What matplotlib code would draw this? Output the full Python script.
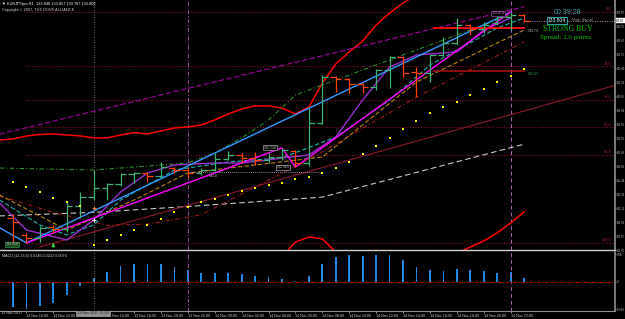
import matplotlib
matplotlib.use("Agg")
import matplotlib.pyplot as plt

plt.rcParams['font.family'] = ['Liberation Sans', 'DejaVu Sans']

# EURJPY H1 bars, 13 Nov 09:00 .. 14 Nov 23:00
opens = [132.122, 131.978, 131.952, 132.046, 132.029, 132.224, 132.301, 132.377, 132.411, 132.496,
         132.505, 132.479, 132.548, 132.530, 132.505, 132.530, 132.624, 132.658, 132.633, 132.616,
         132.641, 132.692, 132.590, 132.930, 133.321, 133.304, 133.262, 133.236, 133.381, 133.491,
         133.364, 133.355, 133.508, 133.610, 133.763, 133.729, 133.780, 133.831, 133.848]
highs = [132.156, 131.995, 132.054, 132.063, 132.258, 132.343, 132.530, 132.420, 132.505, 132.513,
         132.513, 132.599, 132.556, 132.556, 132.548, 132.675, 132.692, 132.675, 132.684, 132.675,
         132.718, 132.701, 133.058, 133.338, 133.330, 133.313, 133.270, 133.389, 133.500, 133.500,
         133.406, 133.508, 133.661, 133.823, 133.770, 133.789, 133.848, 133.874, 133.857]
lows = [131.915, 131.910, 131.918, 131.995, 132.003, 132.131, 132.275, 132.275, 132.394, 132.420,
        132.428, 132.471, 132.505, 132.462, 132.488, 132.522, 132.616, 132.590, 132.573, 132.590,
        132.616, 132.556, 132.561, 132.922, 133.194, 133.185, 133.185, 133.211, 133.228, 133.321,
        133.151, 133.279, 133.500, 133.593, 133.678, 133.695, 133.763, 133.721, 133.787]
closes = [132.088, 131.952, 132.037, 132.029, 132.224, 132.301, 132.377, 132.411, 132.496, 132.505,
          132.479, 132.556, 132.530, 132.505, 132.530, 132.624, 132.658, 132.633, 132.616, 132.641,
          132.701, 132.590, 132.930, 133.321, 133.304, 133.262, 133.236, 133.381, 133.491, 133.355,
          133.355, 133.508, 133.610, 133.763, 133.729, 133.763, 133.831, 133.848, 133.800]

# parabolic SAR
sar = [132.428, 132.386, 132.343, 132.292, 132.258, 132.224, 131.893, 131.935, 131.978, 132.020,
       132.063, 132.114, 132.173, 132.216, 132.258, 132.284, 132.318, 132.352, 132.377, 132.403,
       132.420, 132.454, 132.471, 132.505, 132.548, 132.599, 132.667, 132.735, 132.803, 132.879,
       132.947, 133.015, 133.066, 133.109, 133.168, 133.219, 133.279, 133.330, 133.389]

# bollinger bands, from the bar before the window (-1) to the last bar
bb_upper = [132.785, 132.794, 132.820, 132.832, 132.837, 132.828, 132.820, 132.803, 132.803, 132.828,
            132.849, 132.837, 132.862, 132.888, 132.896, 132.913, 132.956, 133.007, 133.049, 133.075,
            133.075, 133.058, 133.007, 133.066, 133.270, 133.432, 133.534, 133.627, 133.763, 133.865,
            133.950, 134.019, 134.078, 134.129, 134.163, 134.189, 134.214, 134.231, 134.248, 134.257]
bb_lower = [131.73, 131.72, 131.70, 131.68, 131.68, 131.70, 131.72, 131.74, 131.76, 131.78,
            131.80, 131.81, 131.82, 131.83, 131.83, 131.82, 131.80, 131.78, 131.77, 131.78,
            131.79, 131.791, 131.918, 131.961, 131.944, 131.833, 131.72, 131.60, 131.50, 131.42,
            131.38, 131.38, 131.42, 131.60, 131.820, 131.876, 131.927, 131.995, 132.080, 132.173]

# other indicator lines, sampled at bar numbers
channel_bars = [-1, 38]
channel_vals = [132.835, 133.919]
ma_long_bars = [-1, 6, 13, 23, 31, 38]
ma_long_vals = [132.14, 132.17, 132.22, 132.30, 132.54, 132.75]
trend_bars = [2, 44.76]
trend_vals = [131.876, 133.25]
env_bars = [-1, 3, 7, 10, 14, 22, 30, 38]
env_vals = [132.31, 132.17, 132.06, 132.07, 132.15, 132.62, 133.15, 133.62]
green_bars = [-1, 6, 13, 15, 17, 19, 21, 26, 30, 34, 37]
green_vals = [132.547, 132.530, 132.590, 132.675, 132.803, 132.956, 133.168, 133.381, 133.551, 133.721, 133.848]
zz_big_bars = [-1, 1, 37]
zz_big_vals = [132.039, 131.910, 133.874]
zz_small_bars = [1, 20, 21, 37]
zz_small_vals = [131.910, 132.718, 132.556, 133.874]
violet_bars = [-1, 1, 4, 6, 8, 10, 12, 15, 17, 19, 20, 22, 24, 26, 28, 30, 33, 35, 37]
violet_vals = [132.250, 132.020, 131.935, 132.105, 132.343, 132.505, 132.573, 132.590, 132.590, 132.616,
               132.633, 132.658, 132.811, 133.126, 133.406, 133.508, 133.534, 133.721, 133.823]
cyan_bars = [-1, 2, 4, 6, 8, 12, 16, 20, 24, 28, 31, 36, 38]
cyan_vals = [132.275, 132.063, 131.978, 132.063, 132.275, 132.530, 132.599, 132.633, 132.811, 133.126,
             133.423, 133.738, 133.823]
gold_bars = [-1, 4, 9, 13, 23, 30, 38]
gold_vals = [132.318, 132.020, 132.275, 132.505, 132.641, 133.279, 133.721]

# fibonacci retracement
fib_high, fib_low = 133.874, 131.910
fib_levels = [0.0, 23.6, 38.2, 50.0, 61.8, 100.0]

# MACD histogram
macd = [-0.0881, -0.0928, -0.0846, -0.0730, -0.0441, -0.0151, 0.0139, 0.0359, 0.0557, 0.0638,
        0.0638, 0.0638, 0.0533, 0.0429, 0.0325, 0.0325, 0.0325, 0.0278, 0.0220, 0.0174,
        0.0116, 0.0035, 0.0220, 0.0638, 0.0881, 0.0951, 0.0916, 0.0951, 0.0951, 0.0777,
        0.0533, 0.0429, 0.0394, 0.0464, 0.0429, 0.0383, 0.0325, 0.0348, 0.0146]

time_bars = [1, 3, 5, 7, 9, 11, 13, 15, 17, 19, 21, 23, 25, 27, 29, 31, 33, 35, 37]
time_labels = ['13 Nov 10:00', '13 Nov 12:00', '13 Nov 14:00', '13 Nov 16:00', '13 Nov 18:00',
               '13 Nov 20:00', '13 Nov 22:00', '14 Nov 00:00', '14 Nov 02:00', '14 Nov 04:00',
               '14 Nov 06:00', '14 Nov 08:00', '14 Nov 10:00', '14 Nov 12:00', '14 Nov 14:00',
               '14 Nov 16:00', '14 Nov 18:00', '14 Nov 20:00', '14 Nov 22:00']
price_ticks = [131.850, 131.969, 132.088, 132.207, 132.326, 132.445, 132.564, 132.683, 132.802,
               132.921, 133.040, 133.159, 133.278, 133.397, 133.516, 133.635, 133.754, 133.873]
macd_ticks = [0.097, 0.0, -0.094]

W, H = 625, 319
fig = plt.figure(figsize=(6.25, 3.19), dpi=100, facecolor='black')
ax = fig.add_axes([0, 69 / H, 615 / W, 250 / H], facecolor='black')
ax2 = fig.add_axes([0, 8 / H, 615 / W, 59 / H], facecolor='black')
xlo, xhi = -0.967, 44.76
ax.set_xlim(xlo, xhi)
ax.set_ylim(131.850, 133.976)
ax2.set_xlim(xlo, xhi)
ax2.set_ylim(-0.1009, 0.1043)

for a in (ax, ax2):
    for s in a.spines.values():
        s.set_visible(False)
    a.spines['right'].set_visible(True)
    a.spines['right'].set_color('#909090')
    a.spines['right'].set_linewidth(1.2)
ax.spines['bottom'].set_visible(True)
ax.spines['bottom'].set_color('#d0d0d0')
ax.spines['bottom'].set_linewidth(1.0)
ax2.spines['bottom'].set_visible(True)
ax2.spines['bottom'].set_color('#909090')
ax2.spines['bottom'].set_linewidth(0.8)

# fibonacci levels
fib_col = '#8c0c28'
for lv in fib_levels:
    p = fib_high - (fib_high - fib_low) * lv / 100
    ax.hlines(p, 1, xhi, colors=fib_col, linestyles=(0, (1, 1.5)), lw=0.8)
    ax.text(44.5, p + 0.008, '%.1f' % lv, color='#b0183c', fontsize=2.8, ha='right', va='bottom')

# vertical lines through both panels
for a in (ax, ax2):
    a.axvline(6, color='#8a8a8a', ls=(0, (1, 2)), lw=0.6)
    a.axvline(13, color='#a050a0', ls=(0, (4, 2, 1, 2)), lw=0.7)
    a.axvline(37, color='#b060b0', ls=(0, (4, 3)), lw=0.7)

ext = list(range(-1, len(opens)))
ax.plot(ext, bb_upper, color='#ff0000', lw=1.1)
ax.plot(ext, bb_lower, color='#ff0000', lw=1.1)
ax.plot(channel_bars, channel_vals, color='#a000a0', lw=0.8, ls=(0, (5, 2)))
ax.plot(ma_long_bars, ma_long_vals, color='#c8c8c8', lw=0.8, ls=(0, (5, 3)))
ax.plot(trend_bars, trend_vals, color='#8b1a2b', lw=0.8)
ax.plot(env_bars, env_vals, color='#9b1b1b', lw=0.8, ls=(0, (4, 2, 1, 2)))
ax.plot(green_bars, green_vals, color='#2e8b2e', lw=0.8, ls=(0, (4, 2, 1, 2)))
ax.plot(gold_bars, gold_vals, color='#b8860b', lw=0.8, ls=(0, (4, 2)))
ax.plot(cyan_bars, cyan_vals, color='#20b2aa', lw=0.8, ls=(0, (4, 2)))
ax.plot(violet_bars, violet_vals, color='#9932cc', lw=1.0)
ax.plot(zz_big_bars, zz_big_vals, color='#3399ff', lw=1.0)
ax.plot(zz_small_bars, zz_small_vals, color='#ff00ff', lw=1.0)

# horizontal levels
ax.hlines(133.734, 31.2, 38.1, colors='#ff1010', lw=1.3)
ax.hlines(133.368, 31.2, 38.1, colors='#b01010', lw=1.1)
ax.hlines(133.800, 38, xhi, colors='#c080c0', linestyles=(0, (1, 1.5)), lw=0.7)
ax.hlines(132.513, 13, 22.8, colors='#c8a0c8', linestyles=(0, (1, 1.5)), lw=0.6)
ax.text(14.9, 132.50, '0.618', color='#c8a0c8', fontsize=2.5, ha='center', va='top')

# OHLC bars
tick = 0.42
for i in range(len(opens)):
    col = '#3cb371' if closes[i] >= opens[i] else '#ff4500'
    ax.vlines(i, lows[i], highs[i], colors=col, lw=0.9)
    ax.hlines(opens[i], i - tick, i, colors=col, lw=0.9)
    ax.hlines(closes[i], i, i + tick, colors=col, lw=0.9)

ax.scatter(range(len(sar)), sar, s=1.6, marker='s', color='#ffff00', linewidths=0, zorder=5)

ax.plot([6], [132.105], marker='+', color='white', ms=3, mew=0.8)
ax.plot([6], [132.207], marker='+', color='#ff7f3f', ms=3, mew=0.8)
ax.annotate('', xy=(3, 131.935), xytext=(3, 131.868),
            arrowprops=dict(arrowstyle='-|>', color='#32cd32', lw=1.0, mutation_scale=4))

# labels on the chart
box_gray = dict(boxstyle='square,pad=0.15', fc='black', ec='#a0a0a0', lw=0.5)
ax.text(19.1, 132.718, '132.718', color='#c8c8c8', fontsize=2.6, ha='center', va='center', bbox=box_gray)
ax.text(20.1, 132.552, '132.561', color='#c8c8c8', fontsize=2.6, ha='center', va='center', bbox=box_gray)
ax.text(-0.05, 131.897, '131.910', color='#c8c8c8', fontsize=2.6, ha='center', va='center',
        bbox=dict(boxstyle='square,pad=0.15', fc='#1b4d1b', ec='#2e8b57', lw=0.5))
ax.text(36.06, 133.865, '133.874', color='#e080e0', fontsize=2.6, ha='center', va='center',
        bbox=dict(boxstyle='square,pad=0.15', fc='black', ec='#9040a0', lw=0.5))
ax.text(38.3, 133.712, '133.73', color='#c8c8c8', fontsize=2.6, ha='left', va='center')
ax.text(38.3, 133.345, '133.37', color='#3cb371', fontsize=2.6, ha='left', va='center')

fig.text(2 / W, 1 - 4 / H, '\u25bc EURJPYpro,H1  133.848 133.857 133.787 133.800',
         color='white', fontsize=2.8, va='center')
fig.text(2 / W, 1 - 9.5 / H, 'Copyright \u00a9 2007, THE DOVE ALLIANCE',
         color='#d0d0d0', fontsize=2.8, va='center')
fig.text(568 / W, 1 - 12 / H, '00:39:28', color='#40a8b0', fontsize=5, ha='center', va='center')
fig.text(557 / W, 1 - 20.5 / H, '133.804', color='#d0ffff', fontsize=3.6, ha='center', va='center',
         bbox=dict(boxstyle='square,pad=0.2', fc='black', ec='#30c0c0', lw=0.6))
fig.text(572 / W, 1 - 20.5 / H, 'High Signal', color='#909090', fontsize=3.0, ha='left', va='center')
fig.text(568 / W, 1 - 29 / H, 'STRONG BUY', color='#00c800', fontsize=5.6, ha='center', va='center',
         family='Liberation Serif')
fig.text(566 / W, 1 - 37.5 / H, 'Spread: 2.6 points.', color='#00c800', fontsize=5.0, ha='center',
         va='center', family='Liberation Serif')

# price axis, squeezed into the 10 px strip right of the chart
ax.yaxis.tick_right()
ax.set_yticks(price_ticks)
ax.set_yticklabels(['%.2f' % p for p in price_ticks])
ax.tick_params(axis='y', colors='#c8c8c8', labelsize=1.9, length=0.8, width=0.5, pad=0.3)
ax.set_xticks([])
ax.text(1.002, (133.800 - 131.850) / (133.976 - 131.850), '133.80', transform=ax.transAxes,
        color='black', fontsize=1.9, va='center', ha='left',
        bbox=dict(boxstyle='square,pad=0.1', fc='white', ec='white', lw=0.3))

# MACD panel
ax2.bar(range(len(macd)), macd, width=0.13, color='#1e88e5')
ax2.axhline(0, color='#c00000', lw=0.8, ls=(0, (3, 1.5, 1, 1.5)))
ax2.yaxis.tick_right()
ax2.set_yticks(macd_ticks)
ax2.set_yticklabels(['%g' % v for v in macd_ticks])
ax2.tick_params(axis='y', colors='#c8c8c8', labelsize=1.9, length=0.8, width=0.5, pad=0.3)
ax2.set_xticks(time_bars)
ax2.set_xticklabels(time_labels, ha='left')
ax2.tick_params(axis='x', colors='#c8c8c8', labelsize=2.7, length=1.5, width=0.5, pad=1)
ax2.text(0.003, 0.93, 'MACD (12,26,9) 0.0146 0.0222 0.0076', transform=ax2.transAxes,
         color='#d0d0d0', fontsize=2.7, va='center')
fig.text(1 / W, 1 - 313.5 / H, '13 Nov 2017', color='#c8c8c8', fontsize=2.7, va='center')
fig.text(93 / W, 1 - 313.5 / H, '13 Nov 2017 15:00', color='#202020', fontsize=2.7, ha='center',
         va='center', bbox=dict(boxstyle='square,pad=0.2', fc='#909090', ec='#b0b0b0', lw=0.4))

fig.savefig('out.png', dpi=100, facecolor='black')
